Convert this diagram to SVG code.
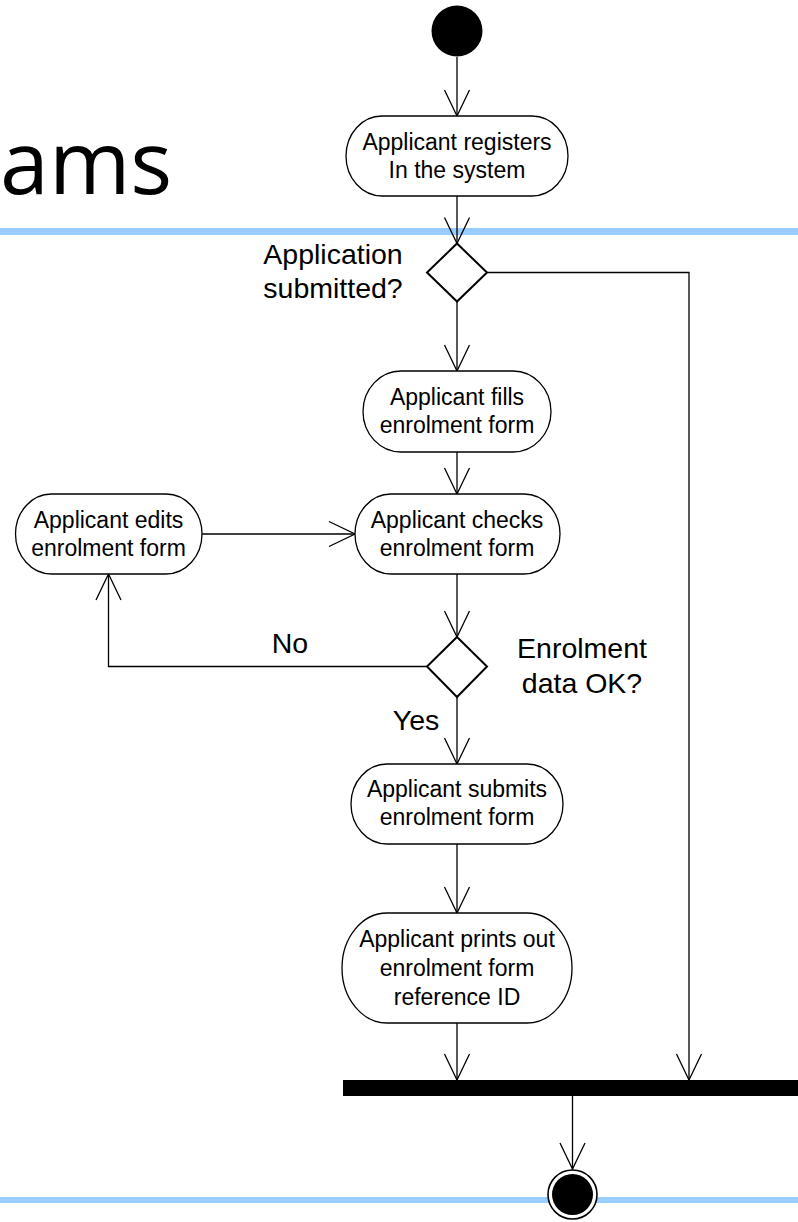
<svg xmlns="http://www.w3.org/2000/svg" width="798" height="1222" viewBox="0 0 798 1222">
<style>
.bg{fill:#ffffff}
.band{fill:#99ccff}
.act{fill:#ffffff;stroke:#000;stroke-width:1.3}
.dec{fill:#ffffff;stroke:#000;stroke-width:2}
.edge{fill:none;stroke:#000;stroke-width:1.3}
.t{font-family:"Liberation Sans",Arial,sans-serif;font-size:23px;fill:#000;text-anchor:middle}
.lbl{font-family:"Liberation Sans",Arial,sans-serif;font-size:28.5px;fill:#000;text-anchor:middle}
.title{font-family:"Open Sans","DejaVu Sans",sans-serif;font-size:88px;font-weight:400;fill:#000;text-anchor:start}
</style>
<defs>
<marker id="arr" markerUnits="userSpaceOnUse" markerWidth="30" markerHeight="30" viewBox="-28 -15 30 30" refX="0" refY="0" orient="auto">
<path d="M-26,-12.5 L0,0 L-26,12.5" fill="none" stroke="#000" stroke-width="1.3"/>
</marker>
</defs>
<rect class="bg" x="0" y="0" width="798" height="1222"/>
<text class="title" x="0" y="194">ams</text>
<rect class="band" x="0" y="228" width="798" height="7"/>
<rect class="band" x="0" y="1197" width="798" height="6"/>

<g id="connectors">
<line class="edge" x1="457" y1="57" x2="457" y2="116" marker-end="url(#arr)"/>
<line class="edge" x1="457" y1="196" x2="457" y2="243.5" marker-end="url(#arr)"/>
<polyline class="edge" points="487,272.5 689,272.5 689,1080" marker-end="url(#arr)"/>
<line class="edge" x1="457" y1="301.5" x2="457" y2="371" marker-end="url(#arr)"/>
<line class="edge" x1="457" y1="452" x2="457" y2="494" marker-end="url(#arr)"/>
<line class="edge" x1="202" y1="534" x2="355" y2="534" marker-end="url(#arr)"/>
<line class="edge" x1="457" y1="574" x2="457" y2="637" marker-end="url(#arr)"/>
<polyline class="edge" points="427,666.5 108.5,666.5 108.5,574" marker-end="url(#arr)"/>
<line class="edge" x1="457" y1="697" x2="457" y2="764" marker-end="url(#arr)"/>
<line class="edge" x1="457" y1="844" x2="457" y2="913" marker-end="url(#arr)"/>
<line class="edge" x1="457" y1="1023" x2="457" y2="1080" marker-end="url(#arr)"/>
<line class="edge" x1="572.5" y1="1096" x2="572.5" y2="1169" marker-end="url(#arr)"/>
</g>

<g id="start">
<circle cx="457" cy="31" r="25.5" fill="#000"/>
</g>

<g id="register">
<rect class="act" x="346" y="116" width="222" height="80" rx="36" ry="40"/>
<text class="t" x="457" y="150">Applicant registers</text>
<text class="t" x="457" y="178">In the system</text>
</g>

<g id="decision-submitted">
<polygon class="dec" points="457,243.5 487,272.5 457,301.5 427,272.5"/>
<text class="lbl" x="333" y="264">Application</text>
<text class="lbl" x="333" y="298">submitted?</text>
</g>

<g id="fills">
<rect class="act" x="363" y="371" width="188" height="81" rx="38" ry="40.5"/>
<text class="t" x="457" y="405">Applicant fills</text>
<text class="t" x="457" y="433">enrolment form</text>
</g>

<g id="edits">
<rect class="act" x="15.5" y="494" width="186.5" height="80" rx="36" ry="40"/>
<text class="t" x="108.5" y="527.5">Applicant edits</text>
<text class="t" x="108.5" y="555.5">enrolment form</text>
</g>

<g id="checks">
<rect class="act" x="355" y="494" width="205" height="80" rx="36" ry="40"/>
<text class="t" x="457" y="527.5">Applicant checks</text>
<text class="t" x="457" y="555.5">enrolment form</text>
</g>

<g id="decision-ok">
<polygon class="dec" points="457,637 487,666.5 457,697 427,666.5"/>
<text class="lbl" x="582" y="658">Enrolment</text>
<text class="lbl" x="582" y="693">data OK?</text>
<text class="lbl" x="290" y="653">No</text>
<text class="lbl" x="416" y="729.5">Yes</text>
</g>

<g id="submits">
<rect class="act" x="351" y="764" width="212" height="80" rx="36" ry="40"/>
<text class="t" x="457" y="796.5">Applicant submits</text>
<text class="t" x="457" y="824.5">enrolment form</text>
</g>

<g id="prints">
<rect class="act" x="342" y="913" width="230" height="110" rx="45" ry="55"/>
<text class="t" x="457" y="947">Applicant prints out</text>
<text class="t" x="457" y="976">enrolment form</text>
<text class="t" x="457" y="1004.5">reference ID</text>
</g>

<g id="join">
<rect x="343" y="1080" width="455" height="16" fill="#000"/>
</g>

<g id="end">
<circle cx="572.5" cy="1194.5" r="24.5" fill="#fff" stroke="#000" stroke-width="1.6"/>
<circle cx="572.5" cy="1194.5" r="20.5" fill="#000"/>
</g>
</svg>
